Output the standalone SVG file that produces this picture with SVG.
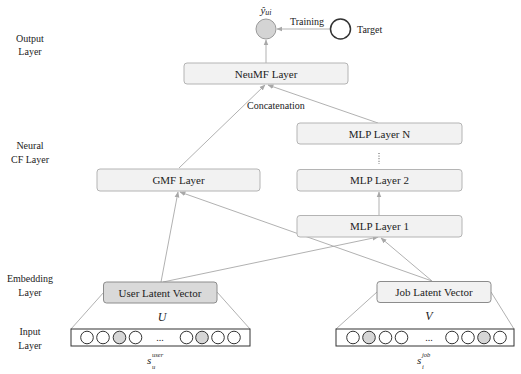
<svg xmlns="http://www.w3.org/2000/svg" width="521" height="374" viewBox="0 0 521 374">
<style>
text{font-family:"Liberation Serif","Times New Roman",serif;fill:#222}
.lbl{font-size:10px;text-anchor:middle}
.box{fill:#f2f2f2;stroke:#b4b4b4;stroke-width:1}
.bt{font-size:11px;text-anchor:middle}
.emb{stroke:#8c8c8c;stroke-width:1}
.ln{stroke:#a8a8a8;stroke-width:0.9;fill:none}
.arr{stroke:#a8a8a8;stroke-width:0.9;fill:none;marker-end:url(#ah)}
.bar{fill:#fff;stroke:#333;stroke-width:1}
.c{fill:#fff;stroke:#333;stroke-width:1}
.cg{fill:#d6d6d6;stroke:#333;stroke-width:1}
.it{font-style:italic;text-anchor:middle}
.s{font-size:11px;font-style:italic}
.sup{font-size:6.5px;font-style:italic}
</style>
<defs>
<marker id="ah" viewBox="0 0 10 10" refX="9" refY="5" markerWidth="6" markerHeight="6" orient="auto" markerUnits="userSpaceOnUse">
<path d="M0,1 L10,5 L0,9 z" fill="#a8a8a8"/>
</marker>
</defs>
<g id="layer-labels">
<text class="lbl" x="30" y="42">Output</text>
<text class="lbl" x="30" y="55">Layer</text>
<text class="lbl" x="30" y="149">Neural</text>
<text class="lbl" x="30" y="163">CF Layer</text>
<text class="lbl" x="30" y="282">Embedding</text>
<text class="lbl" x="30" y="296">Layer</text>
<text class="lbl" x="30" y="335">Input</text>
<text class="lbl" x="30" y="349">Layer</text>
</g>
<g id="connectors">
<line class="arr" x1="266" y1="63" x2="266" y2="40"/>
<line class="arr" x1="330" y1="29" x2="277" y2="29"/>
<line class="arr" x1="179" y1="168" x2="265" y2="85"/>
<line class="arr" x1="378" y1="123" x2="268" y2="85"/>
<line class="arr" x1="379" y1="215" x2="379" y2="192"/>
<line class="arr" x1="161" y1="282" x2="178" y2="192"/>
<line class="arr" x1="163" y1="282" x2="378" y2="237"/>
<line class="arr" x1="432" y1="281" x2="180" y2="192"/>
<line class="arr" x1="432" y1="281" x2="381" y2="238"/>
<line class="ln" x1="104" y1="292" x2="71" y2="329"/>
<line class="ln" x1="217" y1="292" x2="250" y2="329"/>
<line class="ln" x1="377" y1="292" x2="336" y2="329"/>
<line class="ln" x1="491" y1="292" x2="514" y2="329"/>
</g>
<g id="output">
<circle cx="266" cy="29" r="10" fill="#d4d4d4" stroke="#9a9a9a" stroke-width="1"/>
<text x="266" y="14" class="it" font-size="11px">ŷ<tspan font-size="8px" dy="1">ui</tspan></text>
</g>
<g id="target">
<circle cx="340.5" cy="29" r="10" fill="#fff" stroke="#333" stroke-width="1.5"/>
<text x="357" y="33" font-size="10px">Target</text>
</g>
<text x="307" y="25" class="lbl">Training</text>
<text x="247" y="109" font-size="10px">Concatenation</text>
<g id="neumf"><rect class="box" x="184" y="63" width="164" height="21" rx="3"/><text class="bt" x="266" y="77.5">NeuMF Layer</text></g>
<g id="mlpN"><rect class="box" x="297" y="123" width="165" height="21" rx="3"/><text class="bt" x="379.5" y="137.5">MLP Layer N</text></g>
<g id="dots"><line x1="379" y1="153" x2="379" y2="164" stroke="#555" stroke-width="1" stroke-dasharray="1,1.6"/></g>
<g id="mlp2"><rect class="box" x="297" y="169.5" width="165" height="21.5" rx="3"/><text class="bt" x="379.5" y="184">MLP Layer 2</text></g>
<g id="gmf"><rect class="box" x="97" y="169" width="163" height="22" rx="3"/><text class="bt" x="178.5" y="184">GMF Layer</text></g>
<g id="mlp1"><rect class="box" x="297" y="215.5" width="165" height="21.5" rx="3"/><text class="bt" x="379.5" y="230">MLP Layer 1</text></g>
<g id="user-vec"><rect class="emb" fill="#d9d9d9" x="103.5" y="282" width="113.5" height="21" rx="3"/><text class="bt" x="160" y="296.5">User Latent Vector</text></g>
<g id="job-vec"><rect class="emb" fill="#f2f2f2" x="377" y="281.5" width="114" height="21" rx="3"/><text class="bt" x="434" y="296">Job Latent Vector</text></g>
<text class="it" x="162" y="321" font-size="12px">U</text>
<text class="it" x="429" y="320" font-size="12px">V</text>
<g id="user-input">
<rect class="bar" x="71" y="329" width="179" height="17"/>
<circle class="c" cx="87" cy="337.5" r="6.3"/>
<circle class="c" cx="103" cy="337.5" r="6.3"/>
<circle class="cg" cx="119.5" cy="337.5" r="6.3"/>
<circle class="c" cx="135.5" cy="337.5" r="6.3"/>
<text x="160" y="341" class="lbl">...</text>
<circle class="c" cx="186.5" cy="337.5" r="6.3"/>
<circle class="cg" cx="202" cy="337.5" r="6.3"/>
<circle class="c" cx="218" cy="337.5" r="6.3"/>
<circle class="c" cx="234" cy="337.5" r="6.3"/>
</g>
<g id="job-input">
<rect class="bar" x="336" y="329" width="178" height="17"/>
<circle class="c" cx="353" cy="337.5" r="6.3"/>
<circle class="cg" cx="369" cy="337.5" r="6.3"/>
<circle class="c" cx="385.5" cy="337.5" r="6.3"/>
<circle class="c" cx="401.5" cy="337.5" r="6.3"/>
<text x="429" y="341" class="lbl">...</text>
<circle class="c" cx="452" cy="337.5" r="6.3"/>
<circle class="c" cx="468" cy="337.5" r="6.3"/>
<circle class="cg" cx="484" cy="337.5" r="6.3"/>
<circle class="c" cx="500" cy="337.5" r="6.3"/>
</g>
<g id="s-user">
<text class="s" x="147" y="364">s</text>
<text class="sup" x="152" y="357">user</text>
<text class="sup" x="152" y="368.5">u</text>
</g>
<g id="s-job">
<text class="s" x="417" y="364">s</text>
<text class="sup" x="422" y="357">job</text>
<text class="sup" x="422" y="368.5">i</text>
</g>
</svg>
